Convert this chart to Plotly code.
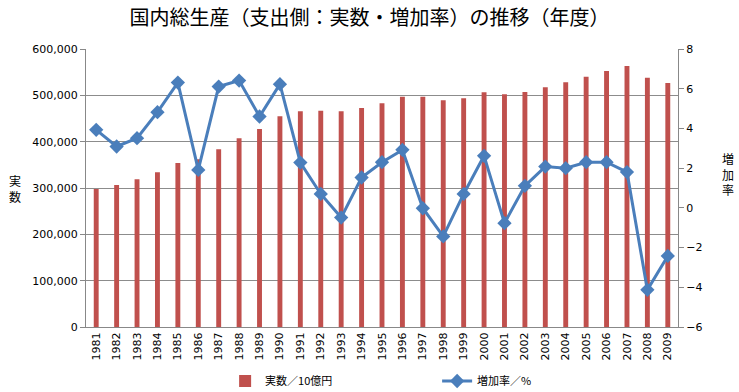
import plotly.graph_objects as go

years = [str(y) for y in range(1981, 2010)]
gdp = [298000, 306500, 318800, 333900, 354000, 362000, 383500, 407300, 427300, 454700,
       465500, 466900, 465500, 472700, 482800, 497100, 497100, 489200, 493500, 506500,
       502200, 507200, 517300, 528100, 540300, 552500, 563300, 538100, 526600]
rate = [3.93, 3.09, 3.51, 4.82, 6.31, 1.91, 6.11, 6.41, 4.60, 6.23,
        2.28, 0.70, -0.49, 1.53, 2.30, 2.92, -0.02, -1.44, 0.70, 2.62,
        -0.77, 1.11, 2.08, 2.00, 2.30, 2.30, 1.80, -4.13, -2.42]

font_jp = "Noto Sans CJK JP"

fig = go.Figure()
fig.add_trace(go.Bar(x=years, y=gdp, name="実数／10億円", marker_color="#C0504D",
                     marker_line_width=0, yaxis="y"))
fig.add_trace(go.Scatter(x=years, y=rate, name="増加率／%", mode="lines+markers",
                         line=dict(color="#4A7EBB", width=3),
                         marker=dict(symbol="diamond", size=11, color="#4A7EBB"),
                         yaxis="y2"))

fig.update_layout(
    width=739, height=392,
    margin=dict(l=86, r=61, t=49, b=65, autoexpand=False),
    paper_bgcolor="white", plot_bgcolor="white",
    font=dict(family=font_jp, size=11, color="black"),
    title=dict(text="国内総生産（支出側：実数・増加率）の推移（年度）", x=0.5, xanchor="center",
               y=0.955, yanchor="middle", font=dict(size=20, family=font_jp, color="black")),
    bargap=0.76,
    showlegend=True,
    legend=dict(orientation="h", x=0.235, xanchor="left", yref="container", y=0.028,
                yanchor="middle", font=dict(size=11, family=font_jp), entrywidth=167,
                traceorder="normal"),
    xaxis=dict(type="category", range=[-0.5, 28.5], tickangle=-90, showline=True,
               linecolor="#888", ticks="", tickfont=dict(size=11, family="DejaVu Sans"),
               showgrid=False),
    yaxis=dict(range=[0, 600000], dtick=100000, tickformat=",", showgrid=True,
               gridcolor="#8c8c8c", gridwidth=1, showline=True, linecolor="#888",
               ticks="outside", ticklen=5, tickcolor="#888",
               tickfont=dict(size=11, family="DejaVu Sans"), zeroline=False),
    yaxis2=dict(range=[-6, 8], dtick=2, overlaying="y", side="right", showgrid=False,
                showline=True, linecolor="#888", ticks="outside", ticklen=5,
                tickcolor="#888", tickfont=dict(size=11, family="DejaVu Sans"),
                zeroline=False),
)

fig.add_annotation(text="実<br>数", xref="paper", yref="paper", x=0, xshift=-71, y=0.5,
                   showarrow=False, font=dict(size=12, family=font_jp, color="black"),
                   xanchor="center")
fig.add_annotation(text="増<br>加<br>率", xref="paper", yref="paper", x=1, xshift=50, y=0.55,
                   showarrow=False, font=dict(size=12, family=font_jp, color="black"),
                   xanchor="center")

fig.write_html("out.html", config={"displayModeBar": False},
               post_script="document.body.style.margin='0';document.body.style.padding='0';")
